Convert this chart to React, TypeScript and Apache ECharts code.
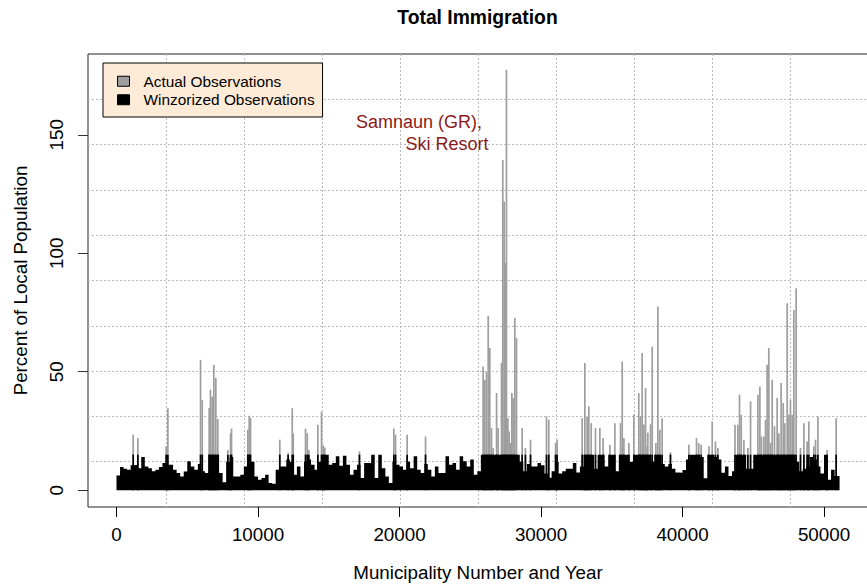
import React, { useEffect, useRef } from "react";
import * as echarts from "echarts";

const TITLE = "Total Immigration";
const X_NAME = "Municipality Number and Year";
const Y_NAME = "Percent of Local Population";
const SERIES_NAMES = ["Actual Observations", "Winzorized Observations"];
const ANNOTATION_LINES = ["Samnaun (GR),", "Ski Resort"];
const X_TICKS = [0, 10000, 20000, 30000, 40000, 50000];
const Y_TICKS = [0, 50, 100, 150];
const X_RANGE = [-2014, 53110];
const Y_RANGE = [-7.1, 184.1];
const CAP = 15;
const BIN = 250;
const DATA_END = 51100;

// winsorized (black) profile, one value per block of 250 observations
const blackProfile = [
  6.2, 9.8, 9, 8.6, 10.5, 10.7, 9.3, 14, 10, 9.3,
  8, 8.6, 9.8, 11.5, 10.7, 10.7, 8.6, 7.2, 5.8, 7.9,
  12.2, 10, 8.6, 11, 8, 7.2, 15, 15, 15, 7.2,
  3.3, 12, 14, 5.8, 5.8, 6.5, 10, 15, 12, 5.8,
  4.4, 5.1, 6.5, 3, 2.7, 8.6, 10, 10, 13, 12,
  6.5, 10, 5.8, 12, 13, 10.7, 8.6, 12, 15, 15,
  10.7, 11.5, 14.3, 10.3, 14.5, 10.7, 6.5, 8.6, 10.7, 5.1,
  11.5, 11.5, 15, 5.1, 15, 9.3, 5.8, 3, 12, 10.7,
  10, 8.6, 12, 9.3, 14.3, 8.6, 7.2, 11, 8.6, 5.8,
  10, 7.2, 7.2, 14.3, 10.7, 11.5, 8.6, 14.3, 12.2, 10,
  12.9, 6.5, 8, 15, 15, 15, 15, 15, 15, 15,
  15, 15, 15, 15, 12, 8, 11, 10, 10, 11.5,
  10.5, 7, 5.2, 8, 12, 7, 8, 9, 9, 11.5,
  7.5, 10, 15, 15, 15, 9, 15, 15, 10, 15,
  15, 8, 15, 15, 15, 12, 15, 15, 15, 15,
  15, 12, 15, 15, 11, 10, 11, 9, 7.5, 7.4,
  8.5, 13, 15, 15, 15, 14, 5, 15, 15, 14,
  13, 7.4, 10, 6, 8, 15, 15, 15, 9, 9,
  15, 15, 15, 15, 15, 15, 15, 15, 15, 15,
  15, 15, 12, 8, 9, 10, 14, 13, 10, 7,
  15, 4.4, 8.6, 6,
];

// individual observations above the winsorizing cap: [municipality-year, percent]
const actualPeaks: [number, number][] = [
  [1180, 23.4], [1510, 22], [3510, 18.5], [3630, 34.6], [5940, 55], [6060, 38],
  [6550, 34.6], [6640, 42.4], [6760, 39.5], [6880, 52.9], [7020, 47.3], [7160, 30],
  [7870, 17], [8060, 24], [8130, 26], [9280, 25.5], [9380, 31.4], [9470, 30.5],
  [11540, 21.3], [12130, 15.8], [12420, 34.6], [12490, 24], [13360, 26], [13480, 24],
  [13590, 17], [14230, 27.6], [14490, 33.2], [14610, 19], [14720, 18], [17170, 16.4],
  [19600, 26], [19720, 23.4], [20540, 23.4], [21840, 22.7],
  [25910, 52.2], [26030, 46.6], [26150, 50], [26270, 73.6], [26380, 60], [26500, 26.2],
  [26620, 17.8], [26860, 41], [26970, 26.2], [27210, 53.7], [27300, 139.4], [27400, 121.8],
  [27470, 95.8], [27560, 177.4], [27660, 30.4], [27750, 24.8], [27840, 19.9], [27940, 41],
  [28030, 38.9], [28150, 72.7], [28270, 64.2], [28670, 26.2], [28900, 17.8], [29260, 21.3],
  [30390, 31.1], [30550, 29.7], [31030, 19.9], [31140, 21.3], [32910, 30.4], [33100, 53.7],
  [33260, 31.1], [33380, 35.4], [33550, 28.3], [33850, 26.2], [34160, 26.2], [34390, 22],
  [34870, 19.2], [35220, 28.3], [35620, 28.3], [35740, 54.3], [35860, 22], [36210, 19.9],
  [36560, 31.9], [36910, 41], [37030, 31.1], [37150, 57.9], [37270, 27.7], [37390, 43.1],
  [37500, 18.5], [37550, 24.3], [37740, 27.8], [37860, 60.6], [38120, 19.9], [38260, 77.5],
  [38400, 25.5], [38560, 30.4], [39150, 16], [40450, 19.2], [40990, 22], [41150, 19.9],
  [41320, 19.2], [41870, 18.5], [42100, 29], [42330, 20.6], [42500, 17.8], [43710, 27.6],
  [43910, 27.6], [44030, 40.3], [44150, 31.8], [44340, 21.3], [44620, 17.8], [44810, 37.5],
  [45330, 40.3], [45470, 43.8], [45580, 22.7], [45750, 22.7], [45870, 29.7], [45980, 52.9],
  [46100, 60], [46220, 20], [46340, 46.6], [46500, 27], [46690, 38.9], [46810, 24],
  [46970, 45.2], [47120, 36.8], [47230, 28.3], [47400, 78.9], [47520, 31.8], [47630, 38.2],
  [47750, 31.8], [47870, 76.1], [48030, 85.2], [48340, 17.8], [48580, 28.3], [48810, 20.6],
  [48930, 29], [49280, 18.5], [49400, 21.3], [49570, 31.1], [50220, 17], [50860, 30.4],
];

const FONT = "'Liberation Sans', Arial, Helvetica, sans-serif";
const GRAY = "#9e9e9e";
const PEAK_W = 120;

export default function App() {
  const ref = useRef<HTMLDivElement>(null);

  useEffect(() => {
    if (!ref.current) return;
    const chart = echarts.init(ref.current, null, { renderer: "svg" });

    const binData: number[][] = blackProfile.map((v, i) => [i * BIN, v]);
    binData.push([DATA_END, blackProfile[blackProfile.length - 1]]);
    const cappedPeaks = actualPeaks.map(([x, v]) => [x, Math.min(v, CAP)]);

    const peakRenderer = (color: string) => (_params: any, api: any) => {
      const x = api.value(0);
      const v = api.value(1);
      const tl = api.coord([x - PEAK_W / 2, v]);
      const br = api.coord([x + PEAK_W / 2, 0]);
      return {
        type: "rect",
        shape: { x: tl[0], y: tl[1], width: br[0] - tl[0], height: br[1] - tl[1] },
        style: { fill: color },
      };
    };

    const gridLine = { show: true, showMinLine: false, showMaxLine: false, lineStyle: { color: "#bcbcbc", width: 1, type: [2, 2] } };

    chart.setOption({
      animation: false,
      backgroundColor: "#ffffff",
      grid: {
        left: 88, top: 54, width: 780, height: 453,
        show: true, borderColor: "#222", borderWidth: 1, backgroundColor: "transparent",
        containLabel: false, outerBoundsMode: "none",
      },
      xAxis: [
        {
          type: "value", min: X_RANGE[0], max: X_RANGE[1], position: "bottom",
          axisLine: { show: false, onZero: false }, splitLine: { show: false },
          axisTick: { show: true, customValues: X_TICKS, length: 10, lineStyle: { color: "#000" } },
          axisLabel: { customValues: X_TICKS, margin: 18, fontSize: 18.8, fontFamily: FONT, color: "#000", formatter: (v: number) => String(v) },
          name: X_NAME, nameLocation: "middle", nameGap: 56,
          nameTextStyle: { fontSize: 18.8, fontFamily: FONT, color: "#000" },
        },
        {
          type: "value", min: 0, max: 10, interval: 1, position: "top",
          axisLine: { show: false, onZero: false }, axisTick: { show: false }, axisLabel: { show: false },
          splitLine: gridLine,
        },
      ],
      yAxis: [
        {
          type: "value", min: Y_RANGE[0], max: Y_RANGE[1], position: "left",
          axisLine: { show: false, onZero: false }, splitLine: { show: false },
          axisTick: { show: true, customValues: Y_TICKS, length: 10, lineStyle: { color: "#333" } },
          axisLabel: { customValues: Y_TICKS, rotate: 90, margin: 22, fontSize: 18.8, fontFamily: FONT, color: "#000", formatter: (v: number) => String(v) },
          name: Y_NAME, nameLocation: "middle", nameGap: 58,
          nameTextStyle: { fontSize: 18.8, fontFamily: FONT, color: "#000" },
        },
        {
          type: "value", min: 0, max: 10, interval: 1, position: "right",
          axisLine: { show: false, onZero: false }, axisTick: { show: false }, axisLabel: { show: false },
          splitLine: gridLine,
        },
      ],
      legend: {
        orient: "vertical", left: 103, top: 63,
        padding: [9, 8, 8, 14], itemGap: 0, itemWidth: 12, itemHeight: 10,
        backgroundColor: "#fdebd7", borderColor: "#000", borderWidth: 1, borderRadius: 0,
        selectedMode: false,
        textStyle: { fontSize: 15.4, fontFamily: FONT, color: "#000", lineHeight: 18.5, padding: [0, 0, 0, 9] },
        data: [
          { name: SERIES_NAMES[0], icon: "rect", itemStyle: { color: GRAY, borderColor: "#000", borderWidth: 1 } },
          { name: SERIES_NAMES[1], icon: "rect", itemStyle: { color: "#000", borderColor: "#000", borderWidth: 1 } },
        ],
      },
      series: [
        {
          name: SERIES_NAMES[0], type: "custom", xAxisIndex: 0, yAxisIndex: 0,
          encode: { x: 0, y: 1 }, data: actualPeaks, renderItem: peakRenderer(GRAY),
          itemStyle: { color: GRAY }, z: 2, silent: true,
        },
        {
          name: SERIES_NAMES[1], type: "line", xAxisIndex: 0, yAxisIndex: 0,
          data: binData, step: "end", showSymbol: false, symbol: "none",
          lineStyle: { width: 0, color: "#000" }, areaStyle: { color: "#000", opacity: 1 },
          itemStyle: { color: "#000" }, z: 3, silent: true,
        },
        {
          name: SERIES_NAMES[1], type: "custom", xAxisIndex: 0, yAxisIndex: 0,
          encode: { x: 0, y: 1 }, data: cappedPeaks, renderItem: peakRenderer("#000"),
          itemStyle: { color: "#000" }, z: 3, silent: true,
        },
      ],
      graphic: [
        {
          type: "text", x: 477.5, y: 17, z: 10,
          style: { text: TITLE, fontSize: 19.3, fontWeight: "bold", fontFamily: FONT, fill: "#000", align: "center", verticalAlign: "middle" },
        },
        {
          type: "text", x: 482, y: 122, z: 10,
          style: { text: ANNOTATION_LINES[0], fontSize: 18, fontFamily: FONT, fill: "#8b1a1a", align: "right", verticalAlign: "middle" },
        },
        {
          type: "text", x: 488.5, y: 143.5, z: 10,
          style: { text: ANNOTATION_LINES[1], fontSize: 18, fontFamily: FONT, fill: "#8b1a1a", align: "right", verticalAlign: "middle" },
        },
      ],
    });

    return () => chart.dispose();
  }, []);

  return (
    <div
      ref={ref}
      style={{ position: "absolute", left: 0, top: 0, width: 867, height: 586, background: "#fff" }}
    />
  );
}
